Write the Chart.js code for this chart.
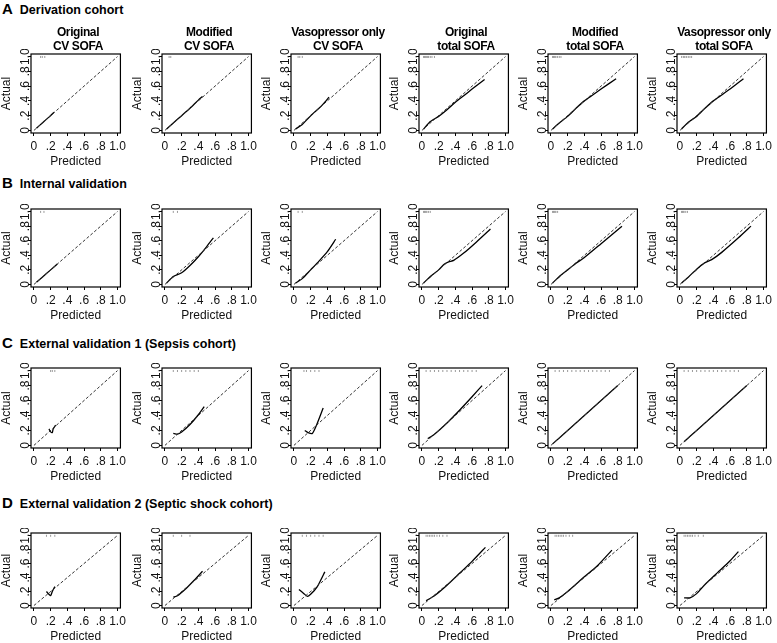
<!DOCTYPE html>
<html>
<head>
<meta charset="utf-8">
<script src="https://cdn.jsdelivr.net/npm/chart.js@4"></script>
<style>
body { margin: 0; background: #fff; width: 777px; height: 643px; position: relative; overflow: hidden;
       font-family: "Liberation Sans", Arial, sans-serif; color: #000; }
.sec { position: absolute; left: 2px; font-weight: bold; font-size: 12.5px; line-height: 16px; white-space: nowrap; }
.sec b { font-size: 15px; margin-right: 7px; }
.ttl { position: absolute; width: 130px; text-align: center; font-weight: bold; font-size: 12px; line-height: 14px;
       letter-spacing: -0.4px; white-space: nowrap; }
canvas { position: absolute; }
</style>
</head>
<body>
<script>
// calibration plots, 4 cohorts x 6 scores

const xTicks = [0, 0.2, 0.4, 0.6, 0.8, 1.0];
const yTicks = [0, 0.2, 0.4, 0.6, 0.8, 1.0];
const diagonal = [0, 1];

const sectionLetters = ['A', 'B', 'C', 'D'];
const sectionTitles = ['Derivation cohort', 'Internal validation',
    'External validation 1 (Sepsis cohort)', 'External validation 2 (Septic shock cohort)'];
const panelTitles = [['Original', 'CV SOFA'], ['Modified', 'CV SOFA'], ['Vasopressor only', 'CV SOFA'],
    ['Original', 'total SOFA'], ['Modified', 'total SOFA'], ['Vasopressor only', 'total SOFA']];

// predicted / actual per panel, row by row
const derivationPred = [
    [0.03, 0.1, 0.18, 0.24],
    [0.02, 0.1, 0.2, 0.3, 0.4, 0.45],
    [0.02, 0.1, 0.15, 0.22, 0.3, 0.36, 0.42],
    [0.02, 0.1, 0.2, 0.3, 0.4, 0.5, 0.6, 0.75],
    [0.02, 0.1, 0.2, 0.3, 0.4, 0.5, 0.6, 0.78],
    [0.02, 0.1, 0.2, 0.3, 0.4, 0.5, 0.6, 0.76]
];
const derivationObs = [
    [0.03, 0.1, 0.18, 0.245],
    [0.02, 0.1, 0.2, 0.3, 0.41, 0.46],
    [0.02, 0.08, 0.14, 0.22, 0.3, 0.37, 0.45],
    [0.02, 0.12, 0.19, 0.28, 0.38, 0.47, 0.56, 0.69],
    [0.02, 0.1, 0.19, 0.3, 0.4, 0.48, 0.56, 0.7],
    [0.02, 0.11, 0.19, 0.3, 0.4, 0.48, 0.56, 0.7]
];
const internalPred = [
    [0.03, 0.1, 0.2, 0.28],
    [0.02, 0.1, 0.2, 0.3, 0.4, 0.5, 0.58],
    [0.02, 0.1, 0.2, 0.3, 0.4, 0.5],
    [0.02, 0.1, 0.2, 0.27, 0.32, 0.38, 0.5, 0.65, 0.82],
    [0.02, 0.1, 0.2, 0.3, 0.4, 0.6, 0.85],
    [0.02, 0.1, 0.2, 0.3, 0.38, 0.5, 0.7, 0.85]
];
const internalObs = [
    [0.03, 0.1, 0.2, 0.28],
    [0.02, 0.11, 0.16, 0.26, 0.38, 0.52, 0.64],
    [0.02, 0.08, 0.2, 0.32, 0.45, 0.62],
    [0.02, 0.11, 0.2, 0.28, 0.31, 0.33, 0.43, 0.58, 0.76],
    [0.02, 0.11, 0.2, 0.29, 0.37, 0.56, 0.8],
    [0.02, 0.1, 0.21, 0.3, 0.34, 0.44, 0.64, 0.8]
];
const sepsisPred = [
    [0.18, 0.2, 0.22, 0.23, 0.26],
    [0.1, 0.15, 0.2, 0.3, 0.4, 0.47],
    [0.13, 0.17, 0.22, 0.27, 0.35],
    [0.07, 0.15, 0.3, 0.45, 0.6, 0.72],
    [0.02, 0.2, 0.4, 0.6, 0.8],
    [0.05, 0.2, 0.4, 0.6, 0.8]
];
const sepsisObs = [
    [0.22, 0.18, 0.17, 0.22, 0.27],
    [0.16, 0.15, 0.18, 0.28, 0.41, 0.52],
    [0.2, 0.17, 0.16, 0.27, 0.5],
    [0.09, 0.15, 0.3, 0.47, 0.65, 0.8],
    [0.02, 0.2, 0.4, 0.6, 0.8],
    [0.05, 0.2, 0.4, 0.6, 0.8]
];
const shockPred = [
    [0.15, 0.18, 0.2, 0.22, 0.25],
    [0.1, 0.15, 0.25, 0.35, 0.45],
    [0.06, 0.12, 0.16, 0.2, 0.28, 0.37],
    [0.05, 0.15, 0.3, 0.45, 0.6, 0.76],
    [0.04, 0.1, 0.2, 0.4, 0.55, 0.73],
    [0.05, 0.12, 0.2, 0.3, 0.45, 0.6, 0.7]
];
const shockObs = [
    [0.2, 0.16, 0.14, 0.2, 0.27],
    [0.12, 0.14, 0.24, 0.36, 0.49],
    [0.23, 0.17, 0.13, 0.16, 0.27, 0.48],
    [0.07, 0.14, 0.29, 0.46, 0.63, 0.83],
    [0.08, 0.11, 0.2, 0.41, 0.56, 0.79],
    [0.11, 0.11, 0.17, 0.3, 0.47, 0.64, 0.77]
];

// rug of predicted risks for deaths, drawn along the top edge
const derivationRug = [
    [0.08, 0.1, 0.13], [0.05, 0.07], [0.05, 0.07, 0.1],
    [0.02, 0.03, 0.04, 0.05, 0.06, 0.07, 0.08, 0.1, 0.12, 0.15],
    [0.02, 0.03, 0.04, 0.05, 0.06, 0.08, 0.1, 0.12],
    [0.02, 0.04, 0.05, 0.06, 0.08, 0.1, 0.12, 0.14]
];
const internalRug = [
    [0.08, 0.12], [0.1, 0.15], [0.05, 0.1],
    [0.02, 0.03, 0.04, 0.05, 0.06, 0.08, 0.1],
    [0.02, 0.03, 0.04, 0.05, 0.06, 0.08],
    [0.02, 0.03, 0.04, 0.05, 0.07, 0.09]
];
const sepsisRug = [
    [0.2, 0.22, 0.25], [0.1, 0.15, 0.2, 0.25, 0.3, 0.35, 0.4], [0.12, 0.15, 0.2, 0.25, 0.3],
    [0.05, 0.1, 0.15, 0.2, 0.25, 0.3, 0.35, 0.4, 0.45, 0.5, 0.55, 0.6, 0.65],
    [0.05, 0.1, 0.15, 0.2, 0.25, 0.3, 0.35, 0.4, 0.45, 0.5, 0.55, 0.6, 0.65, 0.7],
    [0.05, 0.1, 0.15, 0.2, 0.25, 0.3, 0.35, 0.4, 0.45, 0.5, 0.55, 0.6, 0.65, 0.7]
];
const shockRug = [
    [0.15, 0.2, 0.25], [0.1, 0.2, 0.3], [0.1, 0.15, 0.2, 0.25, 0.3, 0.35],
    [0.05, 0.07, 0.09, 0.11, 0.13, 0.15, 0.18, 0.21, 0.25, 0.3],
    [0.05, 0.07, 0.09, 0.11, 0.13, 0.15, 0.18, 0.22, 0.26],
    [0.05, 0.07, 0.09, 0.11, 0.13, 0.15, 0.18, 0.22, 0.28]
];

const rowsPred = [derivationPred, internalPred, sepsisPred, shockPred];
const rowsObs = [derivationObs, internalObs, sepsisObs, shockObs];
const rowsRug = [derivationRug, internalRug, sepsisRug, shockRug];

// layout (plot-box positions in the page)
const boxLefts = [31, 162, 291, 419, 548, 677];
const boxW = 94;
const boxTops = [53, 208, 367, 532];
const boxHeights = [80, 79, 81, 76];
const secTops = [1, 175, 335, 495];
const YAXW = 33, XAXH = 41, PADT = 4, PADR = 4;

function tickText(v) {
    if (v === 0) return '0';
    if (v === 1) return '1.0';
    return '.' + Math.round(v * 10);
}

const frame = {
    id: 'frame',
    afterDatasetsDraw(chart) {
        const { ctx, chartArea: a } = chart;
        ctx.save();
        ctx.strokeStyle = '#000';
        ctx.lineWidth = 1.2;
        ctx.strokeRect(a.left, a.top, a.right - a.left, a.bottom - a.top);
        ctx.restore();
    }
};

function toPts(xs, ys) {
    return xs.map((x, i) => ({ x: x, y: ys[i] }));
}

function makePanel(row, col) {
    const cv = document.createElement('canvas');
    const w = YAXW + boxW + PADR;
    const h = PADT + boxHeights[row] + XAXH;
    cv.width = w; cv.height = h;
    cv.style.width = w + 'px'; cv.style.height = h + 'px';
    cv.style.left = (boxLefts[col] - YAXW) + 'px';
    cv.style.top = (boxTops[row] - PADT) + 'px';
    document.body.appendChild(cv);

    const axisFont = { family: '"Liberation Sans", Arial, sans-serif', size: 12 };

    new Chart(cv, {
        type: 'scatter',
        data: {
            datasets: [
                {
                    type: 'line',
                    data: toPts(diagonal, diagonal),
                    borderColor: '#333',
                    borderWidth: 1,
                    borderDash: [3, 2],
                    pointRadius: 0
                },
                {
                    type: 'line',
                    data: toPts(rowsPred[row][col], rowsObs[row][col]),
                    borderColor: '#000',
                    borderWidth: 1.3,
                    pointRadius: 0,
                    tension: 0.2
                },
                {
                    data: rowsRug[row][col].map(x => ({ x: x, y: 0.995 })),
                    pointStyle: 'line',
                    rotation: 90,
                    radius: 1,
                    borderWidth: 1,
                    borderColor: '#999',
                    backgroundColor: '#999'
                }
            ]
        },
        options: {
            responsive: false,
            animation: false,
            layout: { padding: { top: PADT, right: PADR, left: 0, bottom: 0 } },
            plugins: { legend: { display: false }, tooltip: { enabled: false } },
            scales: {
                x: {
                    type: 'linear',
                    min: -0.035, max: 1.035,
                    afterBuildTicks(s) { s.ticks = xTicks.map(v => ({ value: v })); },
                    afterFit(s) { s.height = XAXH; },
                    border: { display: false },
                    grid: { display: true, drawOnChartArea: false, drawTicks: true, tickLength: 3, color: '#000' },
                    ticks: { autoSkip: false, maxRotation: 0, padding: 3, color: '#111', font: axisFont,
                             callback: v => tickText(v) },
                    title: { display: true, text: 'Predicted', color: '#111', font: axisFont,
                             padding: { top: 0, bottom: 5 } }
                },
                y: {
                    type: 'linear',
                    min: -0.035, max: 1.035,
                    afterBuildTicks(s) { s.ticks = yTicks.map(v => ({ value: v })); },
                    afterFit(s) { s.width = YAXW; },
                    border: { display: false },
                    grid: { display: true, drawOnChartArea: false, drawTicks: true, tickLength: 3, color: '#000' },
                    ticks: { autoSkip: false, minRotation: 90, maxRotation: 90, crossAlign: 'center',
                             padding: -6, color: '#111', font: axisFont, callback: v => tickText(v) },
                    title: { display: true, text: 'Actual', color: '#111', font: axisFont,
                             padding: { top: 1, bottom: 0 } }
                }
            }
        },
        plugins: [frame]
    });
}

for (let r = 0; r < 4; r++) {
    const sec = document.createElement('div');
    sec.className = 'sec';
    sec.style.top = secTops[r] + 'px';
    sec.innerHTML = '<b>' + sectionLetters[r] + '</b>' + sectionTitles[r];
    document.body.appendChild(sec);
    for (let c = 0; c < 6; c++) makePanel(r, c);
}

for (let c = 0; c < 6; c++) {
    const t = document.createElement('div');
    t.className = 'ttl';
    t.style.left = (boxLefts[c] + boxW / 2 - 65) + 'px';
    t.style.top = '25px';
    t.innerHTML = panelTitles[c][0] + '<br>' + panelTitles[c][1];
    document.body.appendChild(t);
}
</script>
</body>
</html>
